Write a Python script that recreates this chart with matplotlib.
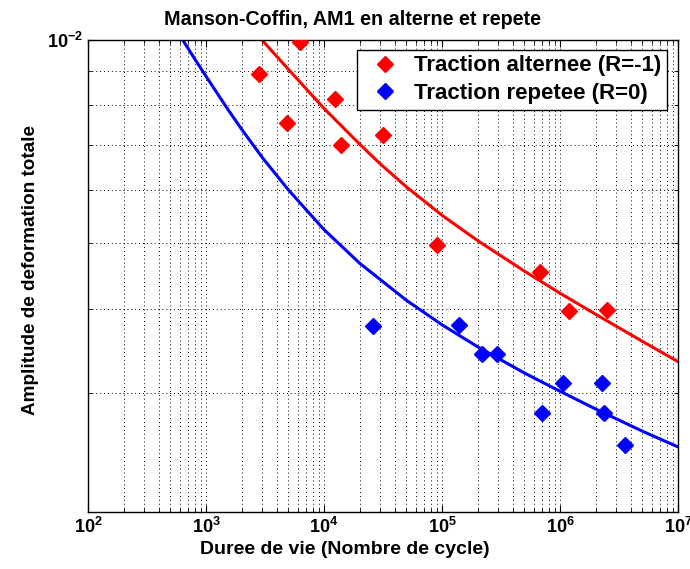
# Manson-Coffin curves for AM1, alternating vs repeated tension

import matplotlib
matplotlib.use("Agg")
import matplotlib.pyplot as plt
from matplotlib.ticker import LogLocator, FixedLocator, FixedFormatter, NullFormatter

plt.rcParams["font.family"] = ["Liberation Sans", "DejaVu Sans"]
plt.rcParams["font.weight"] = "bold"
plt.rcParams["mathtext.fontset"] = "custom"
plt.rcParams["mathtext.rm"] = "Liberation Sans:bold"
plt.rcParams["mathtext.bf"] = "Liberation Sans:bold"

# --------------------------------------------
# Test points
# --------------------------------------------

alt_cycles = [2800, 6300, 12400, 4900, 13800, 31800, 90000, 680000, 1190000, 2490000]
alt_strain = [0.00892, 0.00992, 0.00817, 0.00754, 0.00698, 0.00724, 0.00497, 0.00453, 0.00397, 0.00398]

rep_cycles = [26200, 140000, 220000, 290000, 1050000, 2250000, 710000, 2360000, 3560000]
rep_strain = [0.00377, 0.00378, 0.00343, 0.00343, 0.00311, 0.00311, 0.00280, 0.00280, 0.00251]

# --------------------------------------------
# Fitted curves
# --------------------------------------------

alt_fit_cycles = [2980, 5000, 10000, 20000, 30000, 50000, 100000, 200000,
                  500000, 1000000, 2000000, 5000000, 10000000]
alt_fit_strain = [0.01000, 0.009047, 0.007920, 0.007014, 0.006553, 0.006059, 0.005501, 0.005047,
                  0.004546, 0.004217, 0.003926, 0.003578, 0.003340]

rep_fit_cycles = [635, 800, 1000, 1500, 2000, 3000, 5000, 10000, 20000, 50000, 100000,
                  200000, 500000, 1000000, 2000000, 5000000, 10000000]
rep_fit_strain = [0.01000, 0.009382, 0.008836, 0.007937, 0.007380, 0.006698, 0.005996, 0.005239,
                  0.004673, 0.004116, 0.003787, 0.003514, 0.003212, 0.003019, 0.002842,
                  0.002634, 0.002497]

# --------------------------------------------
# Plot
# --------------------------------------------

fig = plt.figure(figsize=(6.9, 5.69), dpi=100)
ax = fig.add_axes([88 / 690, 57 / 569, 590 / 690, 472 / 569])

ax.plot(alt_cycles, alt_strain, "D", color="red", markersize=8, linestyle="none",
        label="Traction alternee (R=-1)", zorder=3)
ax.plot(rep_cycles, rep_strain, "D", color="blue", markersize=8, linestyle="none",
        label="Traction repetee (R=0)", zorder=3)
ax.plot(alt_fit_cycles, alt_fit_strain, color="red", linewidth=2.2,
        solid_joinstyle="round", zorder=2)
ax.plot(rep_fit_cycles, rep_fit_strain, color="blue", linewidth=2.2,
        solid_joinstyle="round", zorder=2)

ax.set_xscale("log")
ax.set_yscale("log")
ax.set_xlim(1e2, 1e7)
ax.set_ylim(2e-3, 1e-2)

# ticks and labels
xdec = [1e2, 1e3, 1e4, 1e5, 1e6, 1e7]
ax.xaxis.set_major_locator(FixedLocator(xdec))
ax.xaxis.set_major_formatter(FixedFormatter([r"$10^{%d}$" % p for p in range(2, 8)]))
ax.xaxis.set_minor_locator(LogLocator(base=10, subs=range(2, 10), numticks=20))
ax.xaxis.set_minor_formatter(NullFormatter())

ax.yaxis.set_major_locator(FixedLocator([1e-2]))
ax.yaxis.set_major_formatter(FixedFormatter([r"$10^{-2}$"]))
ax.yaxis.set_minor_locator(FixedLocator([2e-3, 3e-3, 4e-3, 5e-3, 6e-3, 7e-3, 8e-3, 9e-3]))
ax.yaxis.set_minor_formatter(NullFormatter())

ax.tick_params(which="both", direction="in", top=True, right=True, labelsize=13)
ax.tick_params(which="major", length=5)
ax.tick_params(which="minor", length=3)

ax.grid(True, which="both", color="black", linestyle=(0, (1, 3)), linewidth=0.7)

for side in ax.spines.values():
    side.set_linewidth(1.0)

ax.set_title("Manson-Coffin, AM1 en alterne et repete", fontsize=14.2, fontweight="bold",
             pad=11, x=0.449)
ax.set_xlabel("Duree de vie (Nombre de cycle)", fontsize=14, fontweight="bold",
              labelpad=3, x=0.436)
ax.set_ylabel("Amplitude de deformation totale", fontsize=13.6, fontweight="bold",
              labelpad=6, y=0.513)

leg = ax.legend(loc="upper right", bbox_to_anchor=(0.981, 0.979), borderaxespad=0,
                fancybox=False, framealpha=1, edgecolor="black",
                handlelength=2.0, handletextpad=0.3, borderpad=0.25,
                prop={"size": 16, "weight": "bold"}, labelspacing=0.3, numpoints=1)
leg.get_frame().set_linewidth(1.0)

fig.savefig("out.png", dpi=100)
